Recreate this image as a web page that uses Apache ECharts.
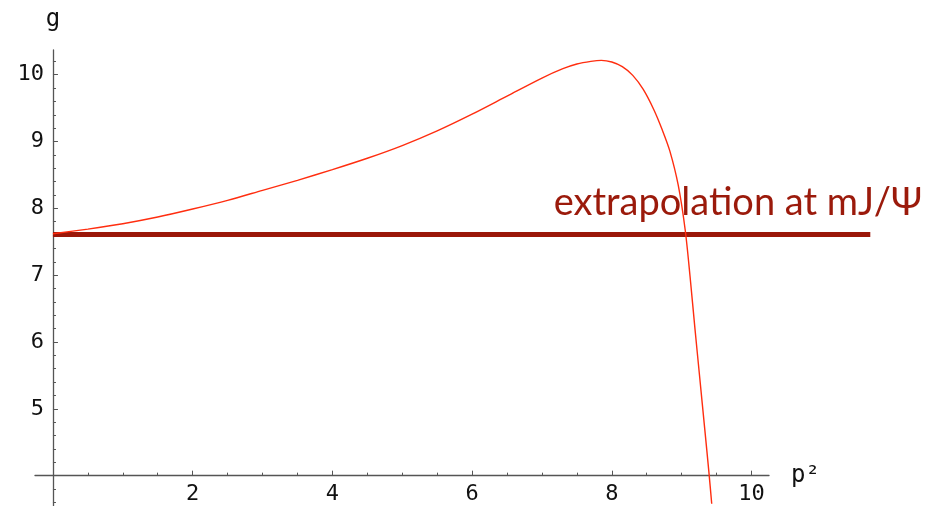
<!DOCTYPE html>
<html>
<head>
<meta charset="utf-8">
<script src="https://cdn.jsdelivr.net/npm/echarts@6/dist/echarts.min.js"></script>
<style>
  html, body { margin: 0; padding: 0; background: #fff; }
  #chart { width: 928px; height: 506px; }
</style>
</head>
<body>
<div id="chart"></div>
<script>
// Coupling g as a function of p^2
const curveX = [0, 0.5, 1.0, 1.5, 2.0, 2.5, 3.0, 3.5, 4.0, 4.5, 5.0, 5.5, 6.0, 6.5, 7.0, 7.3, 7.5, 7.7, 7.85, 8.0, 8.15, 8.3, 8.45, 8.6, 8.72, 8.83, 8.95, 9.05, 9.12, 9.19, 9.26, 9.33, 9.39, 9.43];
const curveY = [7.62, 7.69, 7.77, 7.87, 7.99, 8.12, 8.27, 8.42, 8.58, 8.75, 8.94, 9.16, 9.41, 9.68, 9.95, 10.09, 10.16, 10.20, 10.215, 10.19, 10.12, 9.99, 9.78, 9.48, 9.18, 8.86, 8.35, 7.68, 6.98, 6.20, 5.45, 4.70, 4.05, 3.58];

// Extrapolated value at the J/psi mass (horizontal reference)
const refLevel = 7.61;
const refX = [0, 11.7];

// Tick positions and labels
const xMajor = [2, 4, 6, 8, 10];
const xMinor = [0.5, 1, 1.5, 2.5, 3, 3.5, 4.5, 5, 5.5, 6.5, 7, 7.5, 8.5, 9, 9.5];
const yMajor = [5, 6, 7, 8, 9, 10];
const yMinor = [3.6, 3.8, 4.2, 4.4, 4.6, 4.8, 5.2, 5.4, 5.6, 5.8, 6.2, 6.4, 6.6, 6.8, 7.2, 7.4, 7.6, 7.8, 8.2, 8.4, 8.6, 8.8, 9.2, 9.4, 9.6, 9.8, 10.2];

const xRange = [-0.257, 10.25];
const xRangeWide = [-0.257, 11.75];
const yRange = [3.546, 10.37];
const xAxisAtY = 4;

const axisColor = '#555';
const tickFont = { fontFamily: 'DejaVu Sans Mono', fontSize: 22, color: '#111' };

const W = 928, H = 506;
const gridLeft = 35, gridRightPx = 769, gridTop = 50, gridBottom = 0;
const gridH = H - gridTop - gridBottom;
const pxPerUnit = (gridRightPx - gridLeft) / (xRange[1] - xRange[0]);
const wideRightPx = gridLeft + pxPerUnit * (xRangeWide[1] - xRangeWide[0]);
// shift the horizontal axis up to sit at g = 4
const xOffset = -gridH * (xAxisAtY - yRange[0]) / (yRange[1] - yRange[0]);

const chart = echarts.init(document.getElementById('chart'), null, { renderer: 'canvas' });

function xAxisDef(gridIndex, range, ticks, len, showLine, labels, name) {
  return {
    type: 'value', gridIndex: gridIndex, min: range[0], max: range[1], position: 'bottom', offset: xOffset,
    name: name || '', nameLocation: 'end', nameGap: 22,
    nameTextStyle: { fontFamily: 'DejaVu Sans Mono', fontSize: 24, color: '#111', verticalAlign: 'middle' },
    axisLine: { show: showLine, lineStyle: { color: axisColor, width: 1.3 } },
    axisTick: { show: !!ticks, inside: true, length: len, customValues: ticks || [], lineStyle: { color: axisColor, width: 1 } },
    axisLabel: labels ? Object.assign({ show: true, customValues: labels, margin: 8 }, tickFont) : { show: false },
    splitLine: { show: false }
  };
}
function yAxisDef(gridIndex, ticks, len, showLine, labels, name) {
  return {
    type: 'value', gridIndex: gridIndex, min: yRange[0], max: yRange[1], position: 'left',
    name: name || '', nameLocation: 'end', nameGap: 18,
    nameTextStyle: { fontFamily: 'DejaVu Sans Mono', fontSize: 24, color: '#111', align: 'center' },
    axisLine: { show: showLine, onZero: false, lineStyle: { color: axisColor, width: 1.3 } },
    axisTick: { show: !!ticks, inside: true, length: len, customValues: ticks || [], lineStyle: { color: axisColor, width: 1 } },
    axisLabel: labels ? Object.assign({ show: true, customValues: labels, margin: 9 }, tickFont) : { show: false },
    splitLine: { show: false }
  };
}

chart.setOption({
  animation: false,
  backgroundColor: '#fff',
  grid: [
    { left: gridLeft, right: W - gridRightPx, top: gridTop, bottom: gridBottom, containLabel: false, outerBoundsMode: 'none' },
    // same scale, wider extent for the reference line
    { left: gridLeft, right: W - wideRightPx, top: gridTop, bottom: gridBottom, containLabel: false, outerBoundsMode: 'none' }
  ],
  xAxis: [
    xAxisDef(0, xRange, xMajor, 5, true, xMajor, 'p²'),
    xAxisDef(0, xRange, xMinor, 3, false, null),
    Object.assign(xAxisDef(1, xRangeWide, null, 0, false, null), { show: false })
  ],
  yAxis: [
    yAxisDef(0, yMajor, 5, true, yMajor, 'g'),
    yAxisDef(0, yMinor, 3, false, null),
    Object.assign(yAxisDef(1, null, 0, false, null), { show: false })
  ],
  series: [
    {
      type: 'line', xAxisIndex: 2, yAxisIndex: 2,
      data: refX.map(x => [x, refLevel]),
      showSymbol: false, clip: false,
      lineStyle: { color: '#9b1709', width: 5, cap: 'butt' },
      z: 2
    },
    {
      type: 'line', xAxisIndex: 0, yAxisIndex: 0,
      data: curveX.map((x, i) => [x, curveY[i]]),
      showSymbol: false, clip: false, smooth: 0.3,
      lineStyle: { color: '#ff2d0f', width: 1.4 },
      z: 3
    }
  ],
  graphic: [
    {
      type: 'text', right: 6, top: 184,
      style: {
        text: 'extrapolation at mJ/Ψ',
        font: '38px Lato',
        fill: '#9b1a0b'
      }
    }
  ]
});

// y axes cross the x axis at p^2 = 0
const x0 = chart.convertToPixel({ xAxisIndex: 0 }, 0);
const leftEdge = chart.convertToPixel({ xAxisIndex: 0 }, xRange[0]);
const yOff = leftEdge - x0;
chart.setOption({ yAxis: [{ offset: yOff }, { offset: yOff }, { offset: yOff }] });
</script>
</body>
</html>
